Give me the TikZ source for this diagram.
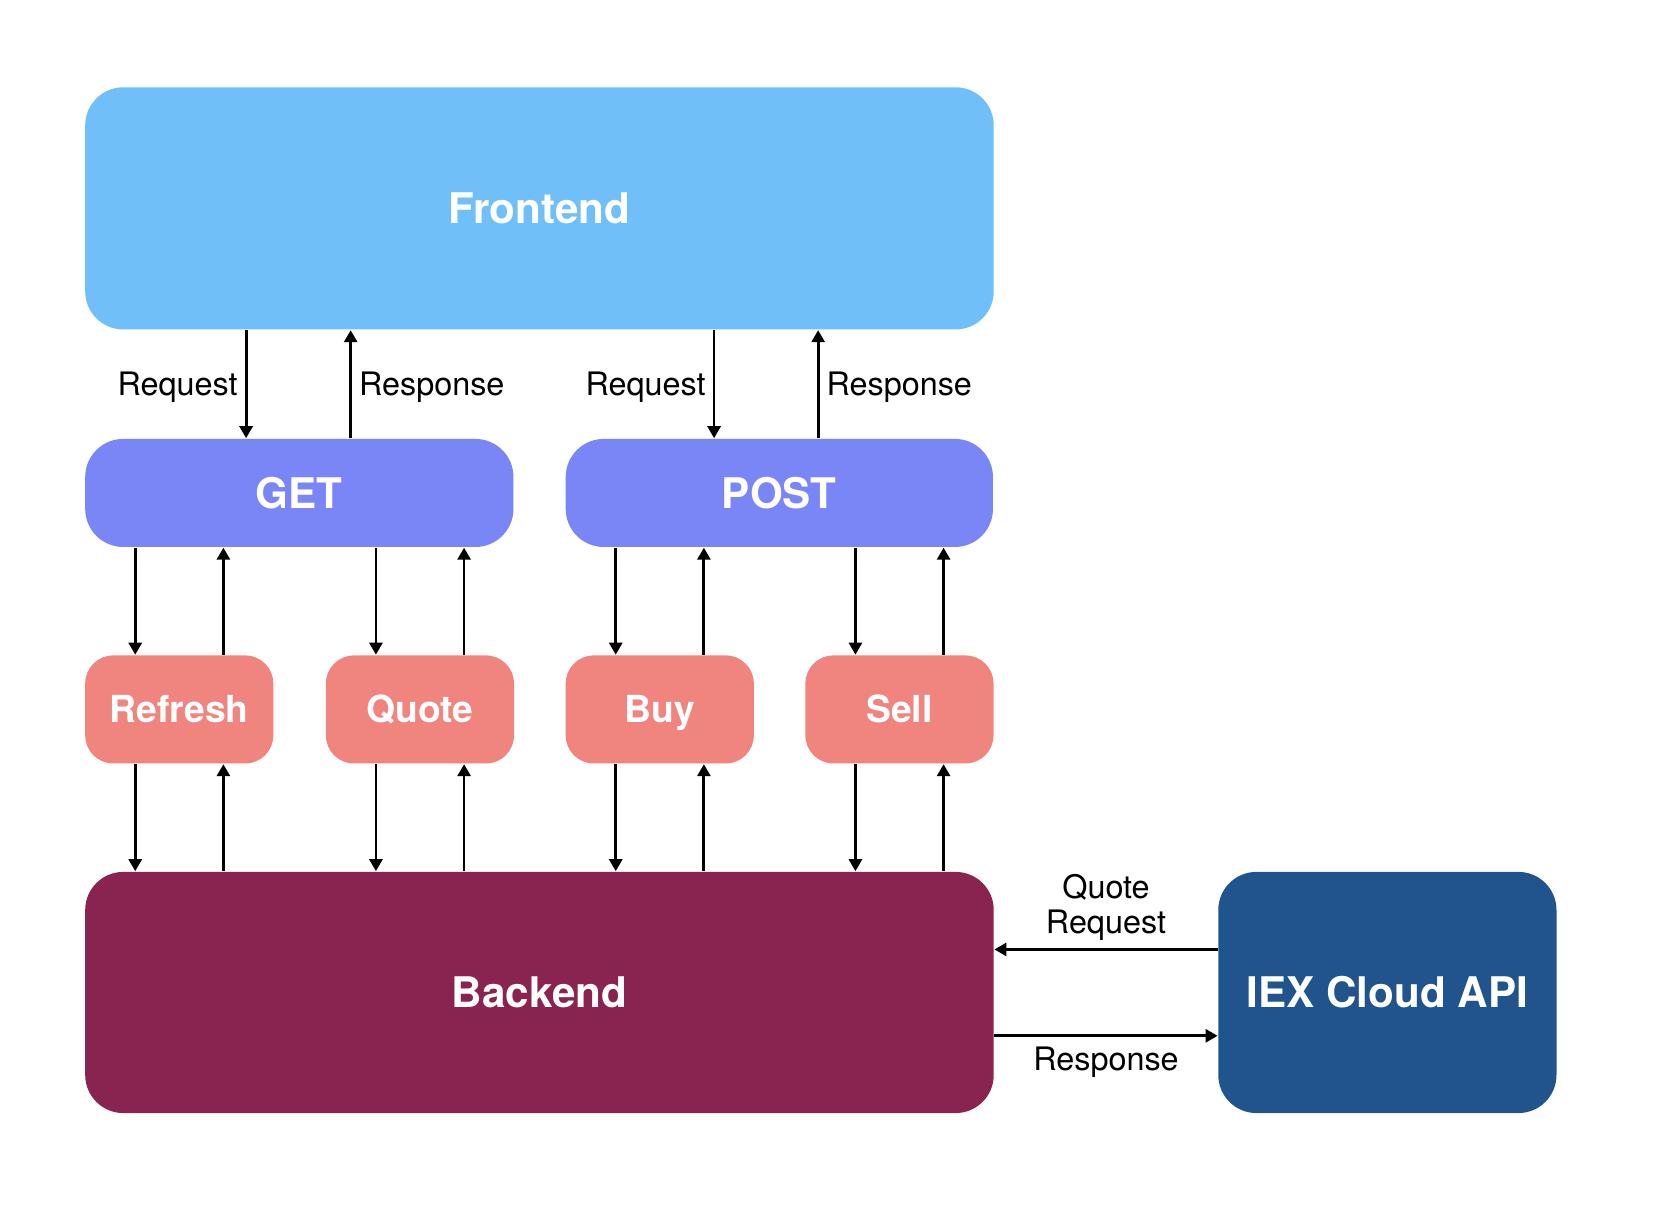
\documentclass[tikz,border=0pt]{standalone}
\usepackage{fontspec}
\setmainfont{TeX Gyre Heros}
\usetikzlibrary{arrows.meta}

\definecolor{frontc}{RGB}{113,191,248}
\definecolor{methodc}{RGB}{122,134,246}
\definecolor{opc}{RGB}{239,133,126}
\definecolor{backc}{RGB}{137,36,80}
\definecolor{iexc}{RGB}{33,84,140}

\begin{document}
\begin{tikzpicture}[x=0.01cm, y=-0.01cm,
   box/.style={rounded corners=0.38cm, anchor=north west, inner sep=0pt, text=white,
     font=\fontsize{12}{14}\selectfont\bfseries, text height=8.6pt, text depth=0pt},
   opbox/.style={box, rounded corners=0.28cm, fill=opc, minimum width=1.88cm, minimum height=1.08cm,
     font=\fontsize{10.6}{12}\selectfont\bfseries, text height=7.6pt},
   link/.style={line width=0.8pt, -{Triangle[width=0.13cm,length=0.12cm]}},
   lbl/.style={font=\fontsize{9.2}{10}\selectfont, inner sep=0.07cm},
   side/.style={lbl, text height=6.6pt, text depth=0pt}]
   \useasboundingbox (0,0) rectangle (1656,1214);

   % boxes
   \node[box, fill=frontc, minimum width=9.08cm, minimum height=2.42cm] (front) at (84.5,86.6) {Frontend};
   \node[box, fill=methodc, minimum width=4.28cm, minimum height=1.08cm] (get) at (84.5,438.2) {GET};
   \node[box, fill=methodc, minimum width=4.27cm, minimum height=1.08cm] (post) at (565,438.2) {POST};
   \node[opbox] (refresh) at (84.5,654.7) {Refresh};
   \node[opbox] (quote) at (325.2,654.7) {Quote};
   \node[opbox] (buy) at (565,654.7) {Buy};
   \node[opbox] (sell) at (804.7,654.7) {Sell};
   \node[box, fill=backc, minimum width=9.08cm, minimum height=2.41cm] (back) at (84.5,871.2) {Backend};
   \node[box, fill=iexc, minimum width=3.38cm, minimum height=2.41cm] (iex) at (1217.6,871.2) {IEX Cloud API};

   % frontend <-> methods
   \foreach \m/\a/\b in {get/1.615/2.66, post/1.49/2.53} {
     \draw[link] ([xshift=\a cm]\m.north west |- front.south) -- ([xshift=\a cm]\m.north west)
       node[side, midway, left] {Request};
     \draw[link] ([xshift=\b cm]\m.north west) -- ([xshift=\b cm]\m.north west |- front.south)
       node[side, midway, right] {Response};
   }

   % methods <-> routes <-> backend
   \foreach \s/\m in {refresh/get, quote/get, buy/post, sell/post} {
     \draw[link] ([xshift=0.507cm]\s.north west |- \m.south) -- ([xshift=0.507cm]\s.north west);
     \draw[link] ([xshift=-0.506cm]\s.north east) -- ([xshift=-0.506cm]\s.north east |- \m.south);
     \draw[link] ([xshift=0.507cm]\s.south west) -- ([xshift=0.507cm]\s.south west |- back.north);
     \draw[link] ([xshift=-0.506cm]\s.south east |- back.north) -- ([xshift=-0.506cm]\s.south east);
   }

   % backend <-> api
   \draw[link] ([yshift=0.43cm]iex.west) -- ([yshift=0.43cm]iex.west -| back.east)
     node[lbl, midway, above, align=center] {Quote\\Request};
   \draw[link] ([yshift=-0.433cm]back.east) -- ([yshift=-0.433cm]back.east -| iex.west)
     node[lbl, midway, below, yshift=-0.03cm] {Response};
\end{tikzpicture}
\end{document}
